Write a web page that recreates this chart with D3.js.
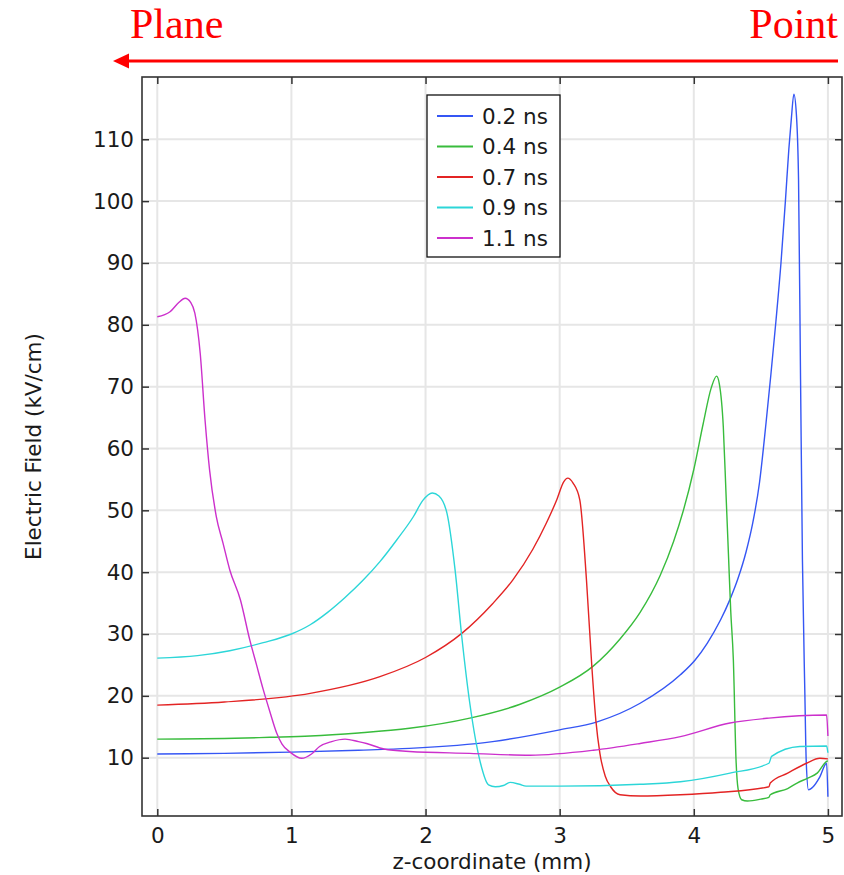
<!DOCTYPE html>
<html>
<head>
<meta charset="utf-8">
<script src="https://cdn.jsdelivr.net/npm/d3@7"></script>
<style>
  html, body { margin: 0; padding: 0; background: #fff; }
  svg { display: block; }
</style>
</head>
<body>
<svg id="chart" width="844" height="875"></svg>
<script>
// ---------------- data ----------------
const seriesNames = ["0.2 ns", "0.4 ns", "0.7 ns", "0.9 ns", "1.1 ns"];

const z02 = [0, 0.5, 1.0, 1.5, 1.88, 2.5, 3.0, 3.28, 3.6, 3.9, 4.01, 4.1, 4.2, 4.27, 4.33, 4.39, 4.44, 4.49, 4.538, 4.575, 4.612, 4.65, 4.683, 4.709, 4.728, 4.746, 4.765, 4.781, 4.796, 4.81, 4.828, 4.838, 4.855, 4.89, 4.94, 4.99, 5.0];
const e02 = [10.6, 10.7, 10.9, 11.2, 11.5, 12.6, 14.5, 15.8, 18.8, 23.4, 25.8, 28.5, 32.3, 35.6, 39.0, 43.3, 48.0, 54.5, 64.0, 72.0, 80.5, 90.0, 100.0, 108.5, 113.5, 117.3, 114.0, 103.4, 71.1, 42.0, 20.5, 9.6, 4.8, 5.3, 6.9, 9.1, 3.7];

const z04 = [0, 0.5, 0.84, 1.14, 1.5, 1.88, 2.33, 2.7, 3.0, 3.25, 3.45, 3.6, 3.75, 3.85, 3.92, 4.0, 4.07, 4.13, 4.17, 4.19, 4.22, 4.24, 4.26, 4.275, 4.295, 4.315, 4.33, 4.357, 4.4, 4.5, 4.56, 4.57, 4.7, 4.77, 4.85, 4.92, 4.99, 5.0];
const e04 = [13.0, 13.1, 13.3, 13.5, 14.0, 14.75, 16.4, 18.6, 21.4, 24.8, 29.2, 33.5, 39.5, 45.0, 49.8, 56.6, 64.0, 69.8, 71.7, 70.5, 63.5, 52.8, 42.0, 33.9, 25.8, 9.6, 5.0, 3.2, 3.0, 3.3, 3.6, 4.0, 5.0, 5.9, 6.7, 7.5, 9.4, 9.5];

const z07 = [0, 0.5, 1.14, 1.66, 2.0, 2.27, 2.5, 2.65, 2.8, 2.9, 2.98, 3.03, 3.06, 3.1, 3.15, 3.2, 3.24, 3.27, 3.30, 3.34, 3.38, 3.45, 3.6, 3.9, 4.2, 4.56, 4.57, 4.7, 4.84, 4.94, 5.0];
const e07 = [18.5, 19.0, 20.4, 23.1, 26.2, 30.1, 34.9, 38.7, 43.7, 47.9, 51.8, 54.6, 55.2, 54.4, 51.7, 38.7, 24.7, 16.0, 10.7, 7.0, 5.3, 4.0, 3.8, 4.0, 4.4, 5.3, 5.9, 7.5, 9.1, 9.9, 9.8];

const z09 = [0, 0.3, 0.54, 0.79, 1.0, 1.14, 1.27, 1.4, 1.53, 1.66, 1.785, 1.91, 1.98, 2.05, 2.1, 2.16, 2.22, 2.27, 2.33, 2.41, 2.47, 2.52, 2.58, 2.63, 2.7, 2.75, 3.0, 3.6, 3.9, 4.27, 4.56, 4.58, 4.79, 4.99, 5.0];
const e09 = [26.1, 26.5, 27.3, 28.6, 30.0, 31.5, 33.5, 35.9, 38.6, 41.7, 45.2, 49.0, 51.6, 52.8, 52.3, 49.5, 40.4, 29.6, 18.8, 9.1, 5.6, 5.3, 5.5, 6.0, 5.7, 5.4, 5.4, 5.7, 6.1, 7.5, 9.1, 10.2, 11.8, 11.9, 10.8];

const z11 = [0, 0.095, 0.16, 0.207, 0.25, 0.28, 0.32, 0.356, 0.39, 0.44, 0.49, 0.54, 0.62, 0.69, 0.74, 0.79, 0.84, 0.89, 0.93, 0.99, 1.077, 1.15, 1.21, 1.3, 1.4, 1.5, 1.56, 1.69, 1.88, 2.33, 2.78, 3.25, 3.6, 3.9, 4.27, 4.56, 4.99, 5.0];
const e11 = [81.3, 82.1, 83.6, 84.3, 83.6, 81.9, 75.4, 64.6, 56.5, 49.0, 44.7, 40.4, 35.5, 29.0, 25.0, 21.0, 17.4, 14.0, 12.2, 10.9, 9.9, 10.6, 11.8, 12.6, 13.0, 12.6, 12.3, 11.4, 11.0, 10.7, 10.4, 11.2, 12.3, 13.4, 15.6, 16.4, 16.9, 13.5];

const xTickValues = [0, 1, 2, 3, 4, 5];
const yTickValues = [10, 20, 30, 40, 50, 60, 70, 80, 90, 100, 110];
const xTitle = "z-coordinate (mm)";
const yTitle = "Electric Field (kV/cm)";
const leftNote = "Plane";
const rightNote = "Point";

// ---------------- drawing ----------------
const seriesColors = ["#3556f4", "#38bc3c", "#e32424", "#2cd6d8", "#cc30cc"];
const zs = [z02, z04, z07, z09, z11];
const es = [e02, e04, e07, e09, e11];

const svg = d3.select("#chart");
const L = 142, R = 842, T = 77, B = 816;
const x = d3.scaleLinear().domain([-0.114, 5.105]).range([L, R]);
const y = d3.scaleLinear().domain([0.57, 120.07]).range([B, T]);

const font = "'DejaVu Sans', sans-serif";
const fs = 21.5;

// header
svg.append("text").attr("x", 130).attr("y", 38)
  .attr("font-family", "'Liberation Serif', 'Times New Roman', serif")
  .attr("font-size", 42).attr("fill", "#ff0000").text(leftNote);
svg.append("text").attr("x", 838).attr("y", 38).attr("text-anchor", "end")
  .attr("font-family", "'Liberation Serif', 'Times New Roman', serif")
  .attr("font-size", 42).attr("fill", "#ff0000").text(rightNote);
svg.append("line").attr("x1", 125).attr("x2", 838).attr("y1", 61).attr("y2", 61)
  .attr("stroke", "#ff0000").attr("stroke-width", 3);
svg.append("path").attr("d", "M113,61 L129,53.5 L129,68.5 Z").attr("fill", "#ff0000");

// grid
const grid = svg.append("g");
grid.selectAll(".gx").data(xTickValues).join("line")
  .attr("x1", d => x(d)).attr("x2", d => x(d)).attr("y1", T).attr("y2", B)
  .attr("stroke", "#e6e6e6").attr("stroke-width", 2);
grid.selectAll(".gy").data(yTickValues).join("line")
  .attr("y1", d => y(d)).attr("y2", d => y(d)).attr("x1", L).attr("x2", R)
  .attr("stroke", "#e6e6e6").attr("stroke-width", 2);

// curves
const plot = svg.append("g");
svg.append("clipPath").attr("id", "clip").append("rect")
  .attr("x", L).attr("y", T).attr("width", R - L).attr("height", B - T);
const line = d3.line().x(d => x(d[0])).y(d => y(d[1])).curve(d3.curveMonotoneX);
seriesNames.forEach((name, i) => {
  const pts = zs[i].map((z, k) => [z, es[i][k]]);
  plot.append("path").datum(pts)
    .attr("clip-path", "url(#clip)")
    .attr("fill", "none").attr("stroke", seriesColors[i])
    .attr("stroke-width", 1.4).attr("stroke-linejoin", "round")
    .attr("d", line);
});

// axes (ticks pointing inward on all four sides)
function styleAxis(g, showLabels) {
  g.select(".domain").remove();
  g.selectAll(".tick line").attr("stroke", "#333").attr("stroke-width", 1.5);
  g.selectAll(".tick text").attr("fill", "#1a1a1a").attr("font-family", font).attr("font-size", fs);
  if (!showLabels) g.selectAll(".tick text").remove();
}
svg.append("g").attr("transform", `translate(0,${B})`)
  .call(d3.axisBottom(x).tickValues(xTickValues).tickSize(-7).tickPadding(12).tickFormat(d3.format("d")))
  .call(g => styleAxis(g, true));
svg.append("g").attr("transform", `translate(0,${T})`)
  .call(d3.axisTop(x).tickValues(xTickValues).tickSize(-7))
  .call(g => styleAxis(g, false));
svg.append("g").attr("transform", `translate(${L},0)`)
  .call(d3.axisLeft(y).tickValues(yTickValues).tickSize(-7).tickPadding(8).tickFormat(d3.format("d")))
  .call(g => styleAxis(g, true));
svg.append("g").attr("transform", `translate(${R},0)`)
  .call(d3.axisRight(y).tickValues(yTickValues).tickSize(-7))
  .call(g => styleAxis(g, false));

// frame
svg.append("rect").attr("x", L).attr("y", T).attr("width", R - L).attr("height", B - T)
  .attr("fill", "none").attr("stroke", "#333").attr("stroke-width", 1.6);

// axis titles
svg.append("text").attr("x", (L + R) / 2).attr("y", 869).attr("text-anchor", "middle")
  .attr("font-family", font).attr("font-size", fs).attr("fill", "#1a1a1a").text(xTitle);
svg.append("text").attr("transform", `translate(33,${(T + B) / 2}) rotate(-90)`)
  .attr("dy", "0.35em").attr("text-anchor", "middle")
  .attr("font-family", font).attr("font-size", fs).attr("fill", "#1a1a1a").text(yTitle);

// legend
const lg = svg.append("g").attr("transform", "translate(427,95)");
lg.append("rect").attr("width", 133).attr("height", 162)
  .attr("fill", "#fff").attr("stroke", "#111").attr("stroke-width", 1.3);
seriesNames.forEach((name, i) => {
  const cy = 21 + i * 30.5;
  lg.append("line").attr("x1", 10).attr("x2", 46).attr("y1", cy).attr("y2", cy)
    .attr("stroke", seriesColors[i]).attr("stroke-width", 2);
  lg.append("text").attr("x", 55).attr("y", cy).attr("dy", "0.36em")
    .attr("font-family", font).attr("font-size", fs).attr("fill", "#1a1a1a").text(name);
});
</script>
</body>
</html>
